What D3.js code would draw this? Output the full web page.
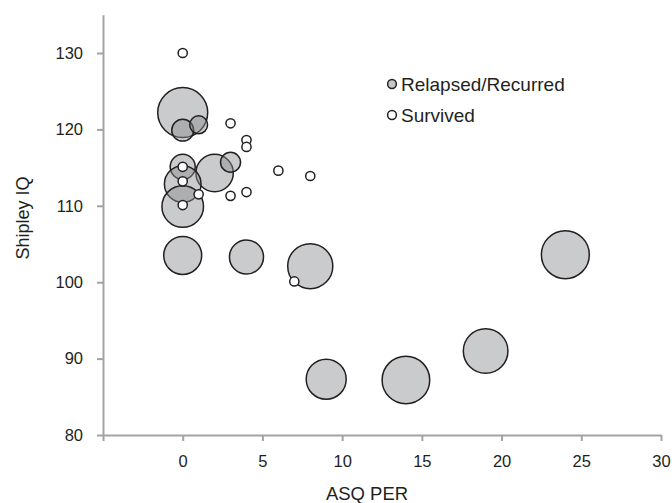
<!DOCTYPE html>
<html>
<head>
  <meta charset="utf-8">
  <title>Shipley IQ vs ASQ PER</title>
  <script src="https://d3js.org/d3.v7.min.js"></script>
<style>
body { margin: 0; background: #fff; }
svg text { font-family: "Liberation Sans", Arial, sans-serif; fill: #231f20; }
.axis path, .axis line { stroke: #a3a3a6; stroke-width: 2px; }
.axis text { font-size: 16.5px; }
</style>
</head>
<body>
<svg width="672" height="503"></svg>
<script>
// relapsed / recurred bubbles
var relX = [0, 0, 1, 0, 2, 3, 0, 0, 0, 4, 8, 9, 14, 19, 24];
var relY = [122.2, 119.9, 120.6, 115.1, 114.3, 115.7, 112.85, 109.9, 103.5, 103.3, 102.1, 87.3, 87.2, 91.0, 103.6];
var relSize = [25, 4.8, 3.2, 6.3, 14, 4, 13.4, 17.3, 14.4, 11.6, 20.3, 16, 22.7, 19.9, 23];

// survived points
var survX = [0, 3, 4, 4, 0, 0, 1, 3, 4, 0, 6, 8, 7];
var survY = [130, 120.8, 118.6, 117.7, 115.1, 113.2, 111.5, 111.3, 111.8, 110.1, 114.6, 113.9, 100.1];

var xTicks = [-5, 0, 5, 10, 15, 20, 25, 30];
var yTicks = [80, 90, 100, 110, 120, 130];
var seriesNames = ["Relapsed/Recurred", "Survived"];

var svg = d3.select("svg");

var x = d3.scaleLinear().domain([-5, 30]).range([103, 661]);
var y = d3.scaleLinear().domain([80, 135]).range([435, 14.8]);
var r = d3.scaleSqrt().domain([0, 25]).range([0, 25]);

svg.append("g")
  .attr("class", "axis")
  .attr("transform", "translate(0,435)")
  .call(d3.axisBottom(x).tickValues(xTicks).tickSize(6).tickSizeOuter(0).tickPadding(14)
    .tickFormat(function(d) { return d < 0 ? "" : d; }));

svg.append("g")
  .attr("class", "axis")
  .attr("transform", "translate(103,0)")
  .call(d3.axisLeft(y).tickValues(yTicks).tickSize(6).tickSizeOuter(0).tickPadding(14));

var rel = relX.map(function(d, i) { return {x: d, y: relY[i], s: relSize[i]}; });
var surv = survX.map(function(d, i) { return {x: d, y: survY[i]}; });

svg.append("g").selectAll("circle")
  .data(rel)
  .enter().append("circle")
    .attr("cx", function(d) { return x(d.x); })
    .attr("cy", function(d) { return y(d.y); })
    .attr("r", function(d) { return r(d.s); })
    .attr("fill", "#8a8c8e")
    .attr("fill-opacity", 0.45)
    .attr("stroke", "#231f20")
    .attr("stroke-width", 1.5);

svg.append("g").selectAll("circle")
  .data(surv)
  .enter().append("circle")
    .attr("cx", function(d) { return x(d.x); })
    .attr("cy", function(d) { return y(d.y); })
    .attr("r", 4.6)
    .attr("fill", "#fff")
    .attr("stroke", "#231f20")
    .attr("stroke-width", 1.5);

// legend
var legend = svg.append("g").attr("transform", "translate(392,84)");
legend.selectAll("g")
  .data(seriesNames)
  .enter().append("g")
    .attr("transform", function(d, i) { return "translate(0," + i * 31 + ")"; })
    .each(function(d, i) {
      var g = d3.select(this);
      g.append("circle")
        .attr("r", 4.4)
        .attr("fill", i === 0 ? "#c5c6c8" : "#fff")
        .attr("stroke", "#231f20")
        .attr("stroke-width", 1.5);
      g.append("text")
        .attr("x", 9)
        .attr("dy", "0.35em")
        .style("font-size", "19px")
        .text(d);
    });

// axis titles
svg.append("text")
  .attr("x", 367)
  .attr("y", 500)
  .attr("text-anchor", "middle")
  .style("font-size", "18.5px")
  .text("ASQ PER");

svg.append("text")
  .attr("transform", "translate(29,218) rotate(-90)")
  .attr("text-anchor", "middle")
  .style("font-size", "18px")
  .text("Shipley IQ");
</script>
</body>
</html>
